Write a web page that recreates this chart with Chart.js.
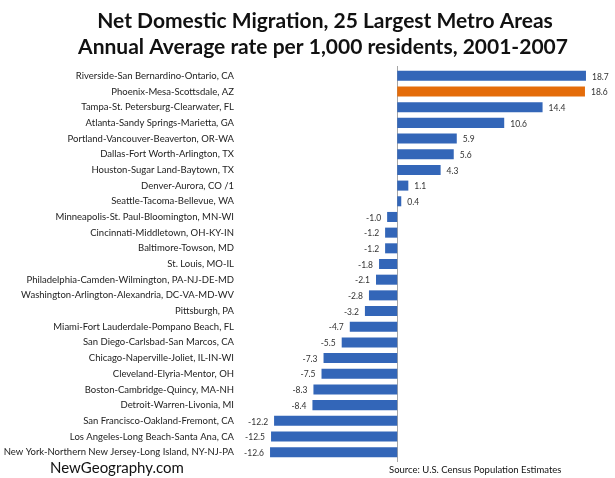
<!DOCTYPE html>
<html>
<head>
<meta charset="utf-8">
<script src="https://cdn.jsdelivr.net/npm/chart.js@4/dist/chart.umd.min.js"></script>
<style>
html,body{margin:0;padding:0;background:#fff;}
#wrap{width:615px;height:478px;position:relative;}
</style>
</head>
<body>
<div id="wrap"><canvas id="c" width="615" height="478"></canvas></div>
<script>
const titleLines = ["Net Domestic Migration, 25 Largest Metro Areas", "Annual Average rate per 1,000 residents, 2001-2007"];
const categories = [
  "Riverside-San Bernardino-Ontario, CA",
  "Phoenix-Mesa-Scottsdale, AZ",
  "Tampa-St. Petersburg-Clearwater, FL",
  "Atlanta-Sandy Springs-Marietta, GA",
  "Portland-Vancouver-Beaverton, OR-WA",
  "Dallas-Fort Worth-Arlington, TX",
  "Houston-Sugar Land-Baytown, TX",
  "Denver-Aurora, CO /1",
  "Seattle-Tacoma-Bellevue, WA",
  "Minneapolis-St. Paul-Bloomington, MN-WI",
  "Cincinnati-Middletown, OH-KY-IN",
  "Baltimore-Towson, MD",
  "St. Louis, MO-IL",
  "Philadelphia-Camden-Wilmington, PA-NJ-DE-MD",
  "Washington-Arlington-Alexandria, DC-VA-MD-WV",
  "Pittsburgh, PA",
  "Miami-Fort Lauderdale-Pompano Beach, FL",
  "San Diego-Carlsbad-San Marcos, CA",
  "Chicago-Naperville-Joliet, IL-IN-WI",
  "Cleveland-Elyria-Mentor, OH",
  "Boston-Cambridge-Quincy, MA-NH",
  "Detroit-Warren-Livonia, MI",
  "San Francisco-Oakland-Fremont, CA",
  "Los Angeles-Long Beach-Santa Ana, CA",
  "New York-Northern New Jersey-Long Island, NY-NJ-PA"
];
const migrationRate = [18.7, 18.6, 14.4, 10.6, 5.9, 5.6, 4.3, 1.1, 0.4, -1.0, -1.2, -1.2, -1.8, -2.1, -2.8, -3.2, -4.7, -5.5, -7.3, -7.5, -8.3, -8.4, -12.2, -12.5, -12.6];
const highlighted = ["Phoenix-Mesa-Scottsdale, AZ"];
const footerLeft = "NewGeography.com";
const footerRight = "Source: U.S. Census Population Estimates";

const BLUE = "#3366b8";
const ORANGE = "#e46c0a";
const FONT = "Lato, 'Open Sans', sans-serif";

const zeroLine = {
  id: "zeroLine",
  beforeDatasetsDraw(chart) {
    const ctx = chart.ctx;
    const x = Math.round(chart.scales.x.getPixelForValue(0)) + 0.5;
    const a = chart.chartArea;
    ctx.save();
    ctx.strokeStyle = "#a6a6a6";
    ctx.lineWidth = 1;
    ctx.beginPath();
    ctx.moveTo(x, a.top - 2);
    ctx.lineTo(x, a.bottom + 2);
    ctx.stroke();
    ctx.restore();
  }
};

const valueLabels = {
  id: "valueLabels",
  afterDatasetsDraw(chart) {
    const ctx = chart.ctx;
    const meta = chart.getDatasetMeta(0);
    ctx.save();
    ctx.font = "8.5px " + FONT;
    ctx.fillStyle = "#333";
    ctx.textBaseline = "middle";
    meta.data.forEach((bar, i) => {
      const v = migrationRate[i];
      const txt = v.toFixed(1);
      if (v >= 0) { ctx.textAlign = "left"; ctx.fillText(txt, bar.x + 6, bar.y + 1); }
      else { ctx.textAlign = "right"; ctx.fillText(txt, bar.x - 6, bar.y + 1); }
    });
    ctx.restore();
  }
};

const texts = {
  id: "texts",
  afterDraw(chart) {
    const ctx = chart.ctx;
    ctx.save();
    ctx.fillStyle = "#111";
    ctx.textAlign = "center";
    ctx.textBaseline = "alphabetic";
    ctx.font = "bold 21px " + FONT;
    ctx.fillText(titleLines[0], 325, 28);
    ctx.fillText(titleLines[1], 323, 54);
    ctx.textAlign = "left";
    ctx.font = "15px " + FONT;
    ctx.fillText(footerLeft, 50, 473);
    ctx.font = "9.5px " + FONT;
    ctx.fillText(footerRight, 389, 473);
    ctx.restore();
  }
};

new Chart(document.getElementById("c"), {
  type: "bar",
  data: {
    labels: categories,
    datasets: [{
      data: migrationRate,
      backgroundColor: categories.map(c => highlighted.includes(c) ? ORANGE : BLUE),
      borderWidth: 0,
      categoryPercentage: 1.0,
      barPercentage: 0.64
    }]
  },
  options: {
    indexAxis: "y",
    responsive: false,
    animation: false,
    layout: { padding: { top: 68, bottom: 18, left: 0, right: 26 } },
    plugins: { legend: { display: false }, title: { display: false }, tooltip: { enabled: false } },
    scales: {
      x: {
        display: false,
        min: -13, max: 19
      },
      y: {
        afterFit(scale) { scale.width = 266; scale.paddingTop = 0; scale.paddingBottom = 0; },
        border: { display: false },
        grid: { display: false, drawTicks: false },
        ticks: { padding: 32, color: "#222", font: { family: FONT, size: 9.5 }, autoSkip: false }
      }
    }
  },
  plugins: [zeroLine, valueLabels, texts]
});
</script>
</body>
</html>
